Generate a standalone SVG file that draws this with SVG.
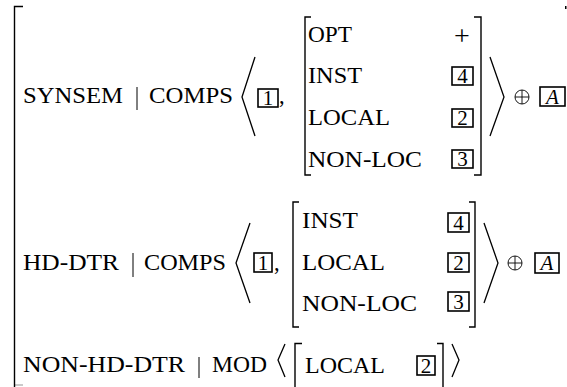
<svg xmlns="http://www.w3.org/2000/svg" width="567" height="387" viewBox="0 0 567 387">
<style>
text{font-family:"Liberation Serif","Times New Roman",serif;font-size:22.5px;fill:#000}
.d{font-size:21px;text-anchor:middle}
.it{font-style:italic;font-size:21px;text-anchor:middle}
.br{fill:none;stroke:#000;stroke-width:1.4}
.ang{fill:none;stroke:#000;stroke-width:1.3;stroke-linejoin:miter}
.box{fill:none;stroke:#000;stroke-width:1.6}
.bar{stroke:#000;stroke-width:1}
.op{fill:none;stroke:#000;stroke-width:0.9}
</style>
<rect width="567" height="387" fill="#fff"/>
<g id="outer">
<path class="br" d="M23,6.5 H14.5 V387"/>
<path class="br" d="M14.5,385 H23" stroke-opacity="0.3"/>
<rect x="565" y="6" width="1.5" height="3" fill="#000"/>
</g>
<g id="row-synsem">
<text x="23" y="103" textLength="100" lengthAdjust="spacingAndGlyphs">SYNSEM</text>
<line class="bar" x1="137" y1="87" x2="137" y2="110"/>
<text x="149" y="103" textLength="84" lengthAdjust="spacingAndGlyphs">COMPS</text>
<polyline class="ang" points="255,57 242,97 255,136"/>
<rect class="box" x="258" y="89" width="20" height="18"/>
<text class="d" x="268" y="105">1</text>
<text x="279" y="103">,</text>
<path class="br" d="M311,17 H305 V175 H311"/>
<text x="308" y="42" textLength="44" lengthAdjust="spacingAndGlyphs">OPT</text>
<text x="462" y="45" style="font-size:28px;text-anchor:middle">+</text>
<text x="308" y="83" textLength="54" lengthAdjust="spacingAndGlyphs">INST</text>
<rect class="box" x="452" y="67" width="21" height="18"/>
<text class="d" x="462.5" y="83">4</text>
<text x="308" y="125" textLength="82" lengthAdjust="spacingAndGlyphs">LOCAL</text>
<rect class="box" x="452" y="109" width="21" height="18"/>
<text class="d" x="462.5" y="125">2</text>
<text x="308" y="167" textLength="114" lengthAdjust="spacingAndGlyphs">NON-LOC</text>
<rect class="box" x="452" y="150" width="21" height="18"/>
<text class="d" x="462.5" y="166">3</text>
<path class="br" d="M474,17 H481 V175 H474"/>
<polyline class="ang" points="490,57 504,97 490,136"/>
<circle class="op" cx="522" cy="97" r="7"/>
<line class="op" x1="515" y1="97" x2="529" y2="97"/>
<line class="op" x1="522" y1="90" x2="522" y2="104"/>
<rect class="box" x="540" y="87" width="25" height="19"/>
<text class="it" x="552.5" y="103.5">A</text>
</g>
<g id="row-hddtr">
<text x="23" y="270" textLength="96" lengthAdjust="spacingAndGlyphs">HD-DTR</text>
<line class="bar" x1="133" y1="253" x2="133" y2="277"/>
<text x="144" y="270" textLength="82" lengthAdjust="spacingAndGlyphs">COMPS</text>
<polyline class="ang" points="250,223 236,263 250,303"/>
<rect class="box" x="254" y="253" width="18" height="19"/>
<text class="d" x="263" y="270">1</text>
<text x="274" y="270">,</text>
<path class="br" d="M299,202 H293 V327 H299"/>
<text x="302" y="228" textLength="56" lengthAdjust="spacingAndGlyphs">INST</text>
<rect class="box" x="448" y="213" width="21" height="19"/>
<text class="d" x="458.5" y="230">4</text>
<text x="302" y="270" textLength="83" lengthAdjust="spacingAndGlyphs">LOCAL</text>
<rect class="box" x="448" y="253" width="21" height="19"/>
<text class="d" x="458.5" y="270">2</text>
<text x="302" y="311" textLength="115" lengthAdjust="spacingAndGlyphs">NON-LOC</text>
<rect class="box" x="448" y="292" width="21" height="19"/>
<text class="d" x="458.5" y="309">3</text>
<path class="br" d="M469,202 H475 V327 H469"/>
<polyline class="ang" points="484,223 498,263 484,303"/>
<circle class="op" cx="515" cy="263" r="7"/>
<line class="op" x1="508" y1="263" x2="522" y2="263"/>
<line class="op" x1="515" y1="256" x2="515" y2="270"/>
<rect class="box" x="535" y="253" width="24" height="20"/>
<text class="it" x="547" y="270">A</text>
</g>
<g id="row-nonhddtr">
<text x="23" y="372" textLength="162" lengthAdjust="spacingAndGlyphs">NON-HD-DTR</text>
<line class="bar" x1="199" y1="357" x2="199" y2="378"/>
<text x="212" y="372" textLength="55" lengthAdjust="spacingAndGlyphs">MOD</text>
<polyline class="ang" points="285,344 278,360 285,377" stroke-width="1"/>
<path class="br" d="M302,343.5 H295 V387"/>
<text x="305" y="373" textLength="80" lengthAdjust="spacingAndGlyphs">LOCAL</text>
<rect class="box" x="417" y="356" width="18" height="19"/>
<text class="d" x="426" y="373">2</text>
<path class="br" d="M437,343.5 H443 V387"/>
<polyline class="ang" points="452,344 459,360 452,377" stroke-width="1"/>
</g>
</svg>
